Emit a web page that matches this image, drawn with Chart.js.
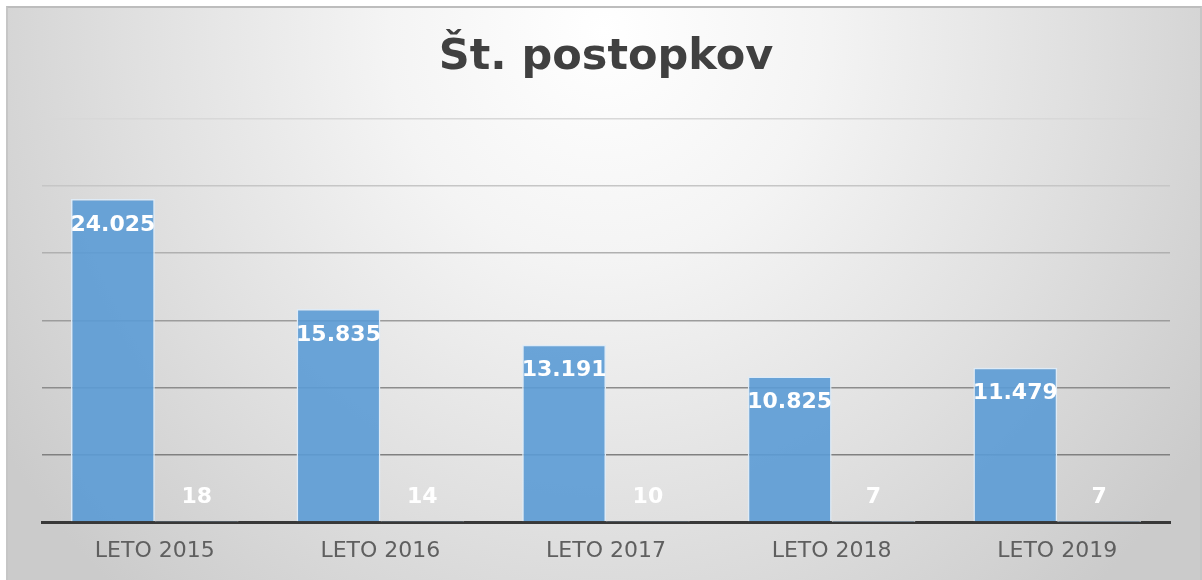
<!DOCTYPE html>
<html>
<head>
<meta charset="utf-8">
<script src="https://cdn.jsdelivr.net/npm/chart.js@4"></script>
<style>
  html, body { margin: 0; padding: 0; background: #fff; }
  #frame {
    position: absolute; left: 6px; top: 6px; width: 1192px; height: 574px;
    border-top: 2px solid #bdbdbd; border-left: 2px solid #c6c6c6; border-right: 2px solid #c6c6c6;
    background: radial-gradient(ellipse 720px 760px at 50% 4%, #ffffff 0%, #f4f4f4 30%, #e0e0e0 65%, #cbcbcb 100%);
  }
  #wrap { position: absolute; left: 0; top: 0; width: 1202px; height: 580px; }
</style>
</head>
<body>
<div id="frame"></div>
<div id="wrap"><canvas id="chart" width="1202" height="580"></canvas></div>
<script>
// Chart data
const categories = ['LETO 2015', 'LETO 2016', 'LETO 2017', 'LETO 2018', 'LETO 2019'];
const series1 = [24025, 15835, 13191, 10825, 11479];
const series2 = [18, 14, 10, 7, 7];
const yTicks = [0, 5000, 10000, 15000, 20000, 25000, 30000];

// grid gets lighter towards the top, like the original
const gridColors = ['rgba(0,0,0,0)', '#808080', '#8c8c8c', '#9c9c9c', '#b0b0b0', '#c6c6c6', '#d8d8d8'];

function fmt(v) {
    return String(v).replace(/\B(?=(\d{3})+(?!\d))/g, '.');
}

// draws the white value labels inside the bars
const valueLabels = {
    id: 'valueLabels',
    afterDatasetsDraw(chart) {
        const ctx = chart.ctx;
        ctx.save();
        ctx.font = 'bold 22px "DejaVu Sans"';
        ctx.fillStyle = '#ffffff';
        ctx.textAlign = 'center';
        ctx.textBaseline = 'middle';
        chart.data.datasets.forEach((ds, i) => {
            chart.getDatasetMeta(i).data.forEach((bar, j) => {
                const y = Math.min(bar.y + 26, bar.base - 24);
                ctx.fillText(fmt(ds.data[j]), bar.x, y);
            });
        });
        ctx.restore();
    }
};

function createChart() {
    const ctx = document.getElementById('chart').getContext('2d');
    new Chart(ctx, {
        type: 'bar',
        data: {
            labels: categories,
            datasets: [{
                label: 'Series 1',
                data: series1,
                backgroundColor: 'rgba(91,155,213,0.9)',
                borderColor: '#deebf7',
                borderWidth: 1.5
            }, {
                label: 'Series 2',
                data: series2,
                backgroundColor: 'rgba(91,155,213,0.9)',
                borderColor: '#eef4fb',
                borderWidth: 1.5
            }]
        },
        options: {
            responsive: false,
            animation: false,
            datasets: {
                bar: { categoryPercentage: 0.743, barPercentage: 1.0 }
            },
            layout: {
                padding: { left: 42, right: 32, top: 0, bottom: 0 }
            },
            plugins: {
                legend: { display: false },
                tooltip: { enabled: false },
                title: {
                    display: true,
                    text: 'Št. postopkov',
                    color: '#404040',
                    font: { family: '"DejaVu Sans"', size: 43, weight: 'bold', lineHeight: 1.2 },
                    padding: { top: 32, bottom: 35 }
                }
            },
            scales: {
                x: {
                    z: 1,
                    grid: { display: false, drawTicks: false },
                    border: { display: true, color: '#383838', width: 3 },
                    ticks: {
                        color: '#5f5f5f',
                        padding: 18,
                        font: { family: '"DejaVu Sans"', size: 22, lineHeight: 1.0 }
                    }
                },
                y: {
                    min: 0,
                    max: 30000,
                    afterBuildTicks: (scale) => { scale.ticks = yTicks.map(v => ({ value: v })); },
                    ticks: { display: false },
                    border: { display: false },
                    grid: {
                        drawTicks: false,
                        lineWidth: 1.5,
                        color: (c) => gridColors[c.index] || '#999'
                    }
                }
            }
        },
        plugins: [valueLabels]
    });
}

window.onload = createChart;
</script>
</body>
</html>
